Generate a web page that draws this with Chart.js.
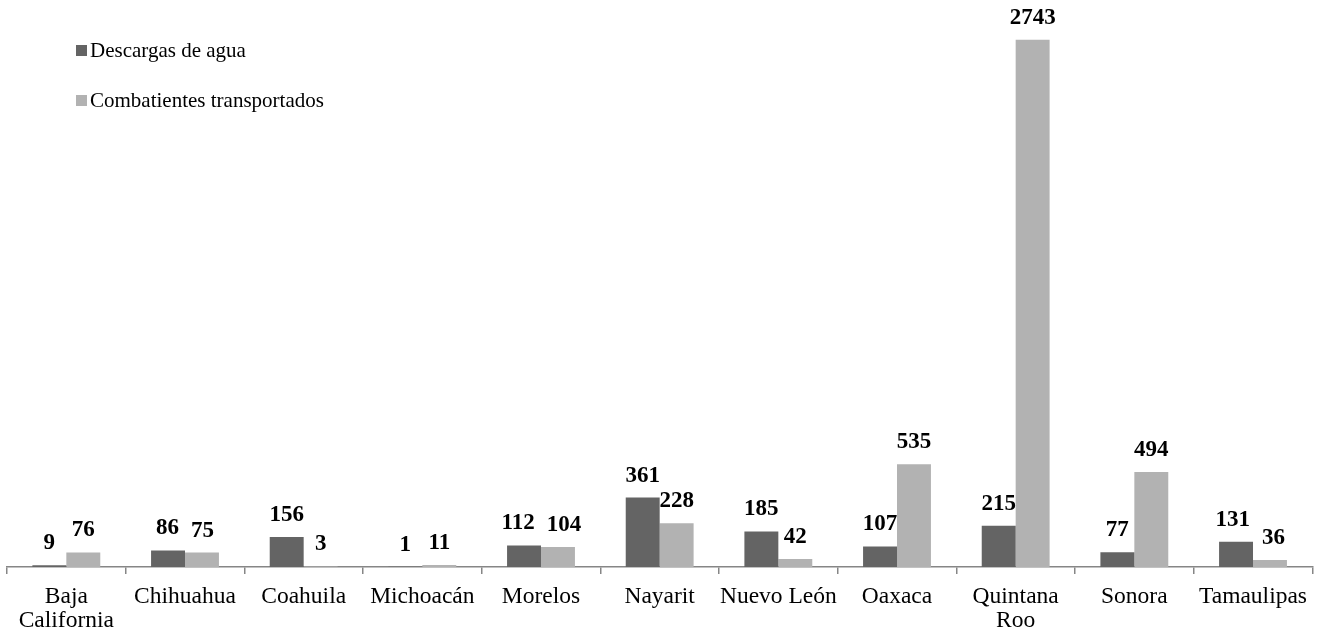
<!DOCTYPE html>
<html>
<head>
<meta charset="utf-8">
<script src="https://cdn.jsdelivr.net/npm/chart.js@4/dist/chart.umd.min.js"></script>
<style>
    html, body { margin: 0; padding: 0; background: #fff; }
    #wrap { position: relative; width: 1318px; height: 636px; }
    #legend { position: absolute; left: 76px; top: 37px; font-family: "Liberation Serif", serif; font-size: 21px; line-height: 26px; color: #000; }
    #legend div { height: 50px; }
    #legend span.box { display: inline-block; width: 11px; height: 11px; margin-right: 3px; vertical-align: 1px; }
</style>
</head>
<body>
<div id="wrap">
    <canvas id="chart" width="1318" height="636"></canvas>
    <div id="legend"></div>
</div>
<script>
// data
const estados = [['Baja', 'California'], 'Chihuahua', 'Coahuila', 'Michoacán', 'Morelos', 'Nayarit',
    'Nuevo León', 'Oaxaca', ['Quintana', 'Roo'], 'Sonora', 'Tamaulipas'];
const descargas = [9, 86, 156, 1, 112, 361, 185, 107, 215, 77, 131];
const combatientes = [76, 75, 3, 11, 104, 228, 42, 535, 2743, 494, 36];
const seriesNames = ['Descargas de agua', 'Combatientes transportados'];

const darkGray = '#646464';
const lightGray = '#b2b2b2';
const axisGray = '#868686';
const serif = '"Liberation Serif", "Times New Roman", serif';

// numbers above the bars, pushed apart a bit when the two in a group collide
const barLabels = {
    id: 'barLabels',
    afterDatasetsDraw(chart) {
        const ctx = chart.ctx;
        ctx.save();
        ctx.font = 'bold 23px ' + serif;
        ctx.fillStyle = '#000';
        ctx.textAlign = 'center';
        ctx.textBaseline = 'alphabetic';
        const m0 = chart.getDatasetMeta(0).data;
        const m1 = chart.getDatasetMeta(1).data;
        const a = chart.data.datasets[0].data;
        const b = chart.data.datasets[1].data;
        for (let j = 0; j < a.length; j++) {
            let x0 = m0[j].x, x1 = m1[j].x;
            const y0 = m0[j].y - 16, y1 = m1[j].y - 16;
            const w0 = ctx.measureText(String(a[j])).width;
            const w1 = ctx.measureText(String(b[j])).width;
            const need = (w0 + w1) / 2 + 12;
            if (Math.abs(y0 - y1) < 20 && x1 - x0 < need) {
                const push = (need - (x1 - x0)) / 2;
                x0 -= push;
                x1 += push;
            }
            ctx.fillText(String(a[j]), x0, y0);
            ctx.fillText(String(b[j]), x1, y1);
        }
        ctx.restore();
    }
};

const chart = new Chart(document.getElementById('chart'), {
    type: 'bar',
    data: {
        labels: estados,
        datasets: [{
            label: seriesNames[0],
            data: descargas,
            backgroundColor: darkGray
        }, {
            label: seriesNames[1],
            data: combatientes,
            backgroundColor: lightGray
        }]
    },
    options: {
        responsive: false,
        animation: false,
        datasets: { bar: { categoryPercentage: 0.572, barPercentage: 1.0 } },
        layout: { padding: { left: 7, right: 0, top: 0, bottom: 0 } },
        plugins: {
            legend: { display: false },
            tooltip: { enabled: false }
        },
        scales: {
            x: {
                grid: {
                    offset: true,
                    drawOnChartArea: false,
                    drawTicks: true,
                    tickLength: 7,
                    color: axisGray,
                    lineWidth: 1.5
                },
                border: { color: axisGray, width: 1.5 },
                ticks: {
                    color: '#000',
                    padding: 11,
                    maxRotation: 0,
                    autoSkip: false,
                    font: { family: serif, size: 23.5, lineHeight: 24 / 23.5 }
                },
                afterFit(scale) { scale.height = 69; }
            },
            y: {
                display: false,
                min: 0,
                max: 2950
            }
        }
    },
    plugins: [barLabels]
});

// legend as text
const legendEl = document.getElementById('legend');
[darkGray, lightGray].forEach((c, i) => {
    const row = document.createElement('div');
    row.innerHTML = '<span class="box" style="background:' + c + '"></span>' + seriesNames[i];
    legendEl.appendChild(row);
});
</script>
</body>
</html>
